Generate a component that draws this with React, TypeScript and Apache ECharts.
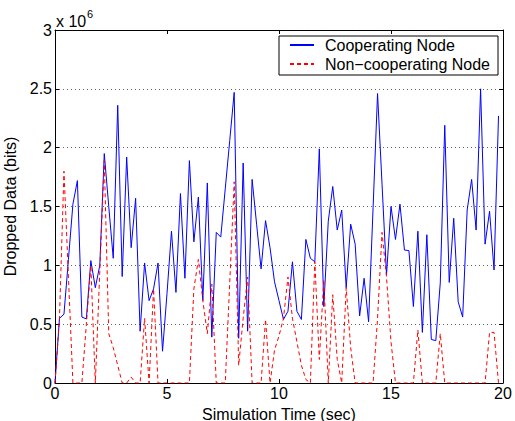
import React, { useEffect, useRef } from "react";
import * as echarts from "echarts";

// Simulation time (sec)
const TIME = [
  0, 0.2, 0.4, 0.6, 0.8, 1, 1.2, 1.4, 1.6, 1.8,
  2, 2.2, 2.4, 2.6, 2.8, 3, 3.2, 3.4, 3.6, 3.8,
  4, 4.2, 4.4, 4.6, 4.8, 5, 5.2, 5.4, 5.6, 5.8,
  6, 6.2, 6.4, 6.6, 6.8, 7, 7.2, 7.4, 7.6, 7.8,
  8, 8.2, 8.4, 8.6, 8.8, 9, 9.2, 9.4, 9.6, 9.8,
  10, 10.2, 10.4, 10.6, 10.8, 11, 11.2, 11.4, 11.6, 11.8,
  12, 12.2, 12.4, 12.6, 12.8, 13, 13.2, 13.4, 13.6, 13.8,
  14, 14.2, 14.4, 14.6, 14.8, 15, 15.2, 15.4, 15.6, 15.8,
  16, 16.2, 16.4, 16.6, 16.8, 17, 17.2, 17.4, 17.6, 17.8,
  18, 18.2, 18.4, 18.6, 18.8, 19, 19.2, 19.4, 19.6, 19.8,
];

// Dropped data, in units of 10^6 bits
const COOPERATING = [
  0, 0.55, 0.585, 1.05, 1.52, 1.72, 0.56, 0.545, 1.04, 0.81,
  1.0, 1.95, 1.5, 1.06, 2.36, 0.905, 1.92, 1.15, 1.57, 0.44,
  1.02, 0.7, 0.8, 1.02, 0.27, 0.76, 1.29, 0.77, 1.61, 0.89,
  1.89, 1.2, 1.58, 0.7, 1.7, 0.39, 1.28, 1.24, 1.65, 2.06,
  2.47, 0.38, 1.87, 0.44, 1.73, 1.35, 0.97, 1.38, 1.15, 0.86,
  0.7, 0.54, 0.61, 1.03, 0.61, 0.54, 1.22, 1.06, 1.03, 1.99,
  0.65, 1.375, 1.67, 1.3, 1.47, 0.81, 1.35, 1.18, 0.57, 0.89,
  0.52, 1.49, 2.46, 1.69, 0.92, 1.5, 1.22, 1.52, 1.13, 1.125,
  0.65, 1.29, 0.43, 1.26, 0.37, 0.36, 0.85, 2.19, 0.855, 1.4,
  0.69, 0.56, 1.47, 1.73, 1.3, 2.5, 1.18, 1.46, 0.96, 2.27,
];

const NON_COOPERATING = [
  0, 0.55, 1.8, 0.9, 0, 0, 0, 0.5, 1.0, 0,
  0.95, 1.89, 0.42, 0.3, 0.15, 0, 0, 0.05, 0, 0,
  0.55, 0, 0.8, 0, 0, 0, 0, 0, 0, 0,
  0, 0.8, 1.05, 0.7, 0.42, 0.84, 0, 0, 0, 0.85,
  1.71, 0.15, 0.55, 0.9, 0, 0, 0, 0.54, 0, 0.28,
  0.4, 0.55, 0.9, 0.55, 0.35, 0.15, 0.03, 0, 1.03, 0.2,
  0.88, 0, 0.75, 0.2, 0, 0.81, 0.3, 0, 0, 0,
  0, 0, 0.55, 1.28, 0.9, 0.35, 0, 0, 0, 0,
  0, 0.45, 0, 0, 0, 0, 0.42, 0, 0, 0,
  0, 0, 0, 0, 0, 0, 0, 0.43, 0.43, 0,
];

const SERIES_NAMES = ["Cooperating Node", "Non\u2212cooperating Node"];
const X_LABEL = "Simulation Time (sec)";
const Y_LABEL = "Dropped Data (bits)";
const X_MIN = 0;
const X_MAX = 20;
const X_STEP = 5;
const Y_MIN = 0;
const Y_MAX = 3;
const Y_STEP = 0.5;

const FONT = "'Liberation Sans', Arial, Helvetica, sans-serif";
const FS = 16;

export default function App() {
  const ref = useRef<HTMLDivElement>(null);

  useEffect(() => {
    if (!ref.current) return;
    const chart = echarts.init(ref.current, null, { renderer: "svg" });

    const axisLine = { show: true, onZero: false, lineStyle: { color: "#000", width: 1 } };
    const axisTick = { show: true, inside: true, length: 4, lineStyle: { color: "#000", width: 1 } };

    const option: any = {
      animation: false,
      backgroundColor: "#fff",
      textStyle: { fontFamily: FONT },
      grid: {
        left: 55,
        right: 12,
        top: 30,
        bottom: 38,
        containLabel: false,
        outerBoundsMode: "none",
      },
      xAxis: [
        {
          type: "value",
          position: "bottom",
          min: X_MIN,
          max: X_MAX,
          interval: X_STEP,
          name: X_LABEL,
          nameLocation: "middle",
          nameGap: 23,
          nameTextStyle: { fontFamily: FONT, fontSize: FS, color: "#000" },
          axisLine,
          axisTick,
          axisLabel: { color: "#000", fontFamily: FONT, fontSize: FS, margin: 2 },
          splitLine: { show: false },
        },
        {
          type: "value",
          position: "top",
          min: X_MIN,
          max: X_MAX,
          interval: X_STEP,
          axisLine,
          axisTick,
          axisLabel: { show: false },
          splitLine: { show: false },
        },
      ],
      yAxis: [
        {
          type: "value",
          position: "left",
          min: Y_MIN,
          max: Y_MAX,
          interval: Y_STEP,
          name: Y_LABEL,
          nameLocation: "middle",
          nameRotate: 90,
          nameGap: 32,
          nameTextStyle: { fontFamily: FONT, fontSize: FS, color: "#000" },
          axisLine,
          axisTick,
          axisLabel: { color: "#000", fontFamily: FONT, fontSize: FS, margin: 3 },
          splitLine: { show: true, lineStyle: { color: "#666", width: 1, type: [1, 3] } },
        },
        {
          type: "value",
          position: "right",
          min: Y_MIN,
          max: Y_MAX,
          interval: Y_STEP,
          axisLine,
          axisTick,
          axisLabel: { show: false },
          splitLine: { show: false },
        },
      ],
      legend: {
        orient: "vertical",
        left: 279,
        top: 36,
        backgroundColor: "#fff",
        borderColor: "#000",
        borderWidth: 1,
        borderRadius: 0,
        padding: [1, 8, 3, 10],
        itemWidth: 24,
        itemHeight: 14,
        itemGap: 3,
        itemStyle: { opacity: 0 },
        textStyle: { fontFamily: FONT, fontSize: FS, color: "#000", padding: [0, 0, 0, 6] },
        data: SERIES_NAMES,
      },
      graphic: [
        {
          type: "text",
          left: 56,
          top: 13,
          style: { text: "x 10", fontFamily: FONT, fontSize: FS, fill: "#000" },
        },
        {
          type: "text",
          left: 87,
          top: 8,
          style: { text: "6", fontFamily: FONT, fontSize: 11, fill: "#000" },
        },
      ],
      series: [
        {
          name: SERIES_NAMES[0],
          type: "line",
          xAxisIndex: 0,
          yAxisIndex: 0,
          symbol: "none",
          showSymbol: false,
          lineStyle: { color: "#0000ff", width: 1 },
          itemStyle: { color: "#0000ff" },
          data: TIME.map((t, i) => [t, COOPERATING[i]]),
        },
        {
          name: SERIES_NAMES[1],
          type: "line",
          xAxisIndex: 0,
          yAxisIndex: 0,
          symbol: "none",
          showSymbol: false,
          lineStyle: { color: "#ff0000", width: 1, type: [4, 3] },
          itemStyle: { color: "#ff0000" },
          data: TIME.map((t, i) => [t, NON_COOPERATING[i]]),
        },
      ],
    };

    chart.setOption(option);
    return () => chart.dispose();
  }, []);

  return (
    <div
      ref={ref}
      style={{ position: "fixed", left: 0, top: 0, width: 515, height: 421, background: "#fff" }}
    />
  );
}
